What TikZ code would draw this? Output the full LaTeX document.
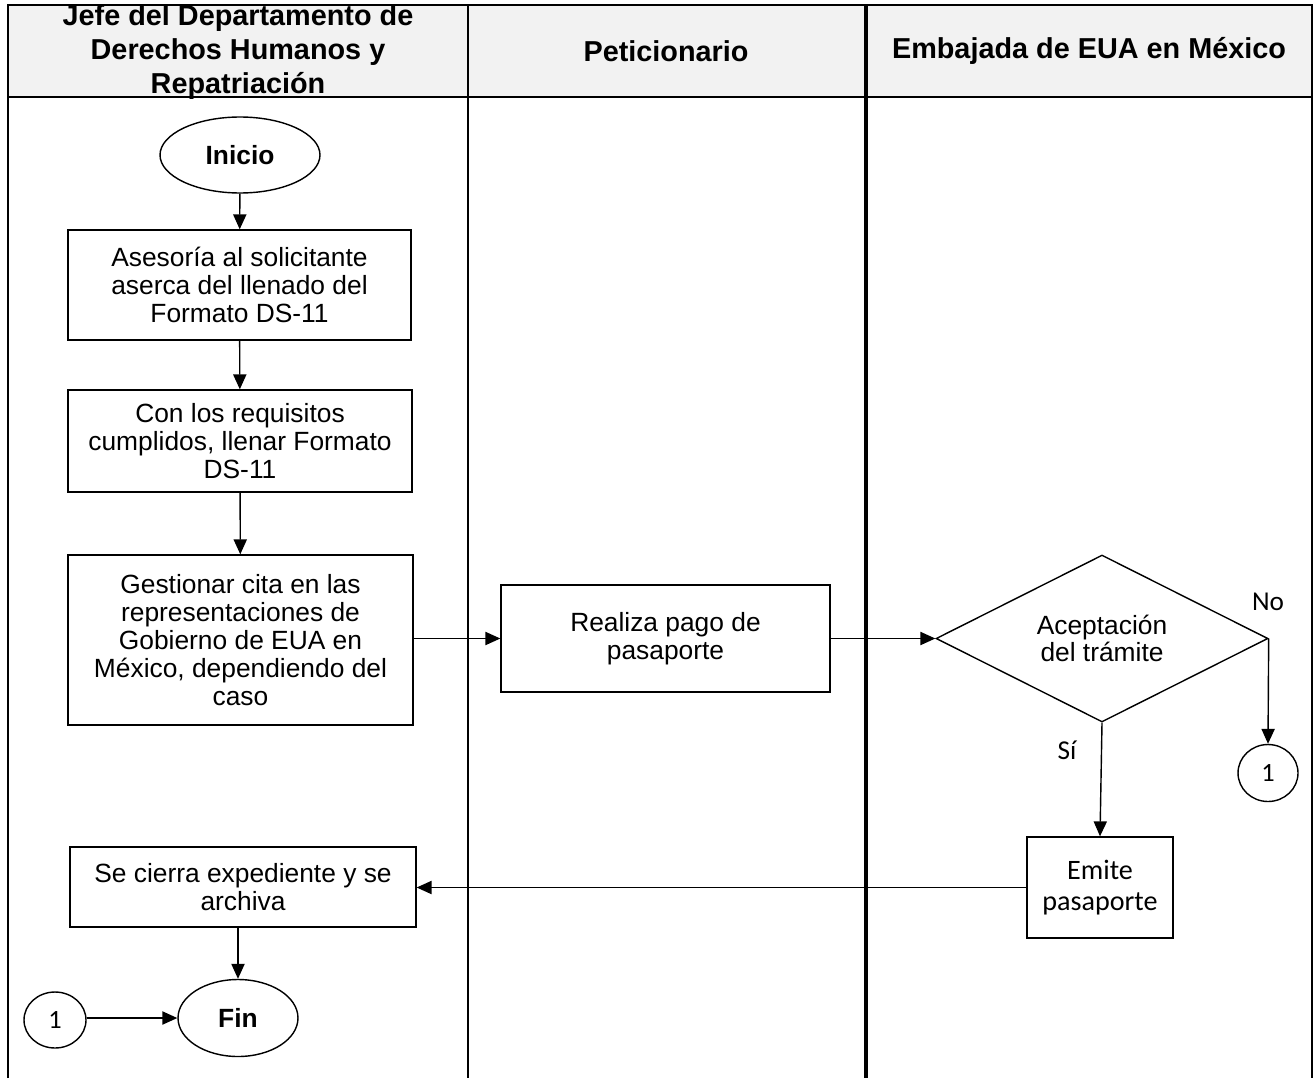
\documentclass[tikz,border=0pt]{standalone}
\usepackage{fontspec}
\setmainfont{Liberation Sans}
\newfontfamily\calf{Carlito}
\usetikzlibrary{shapes.geometric,arrows.meta}
\definecolor{hdrgray}{HTML}{F2F2F2}
\tikzset{
  stepbox/.style={draw, line width=0.8pt, align=center, inner sep=2pt,
    font=\fontsize{15}{16}\selectfont},
  term/.style={draw, ellipse, line width=0.8pt, inner sep=0pt,
    font=\fontsize{15}{17}\selectfont\bfseries},
  conn/.style={draw, ellipse, line width=0.8pt, inner sep=0pt,
    font=\calf\fontsize{15}{17}\selectfont},
  decis/.style={draw, diamond, aspect=2, line width=0.8pt, inner sep=0pt, align=center,
    font=\fontsize{15}{15.5}\selectfont},
  flow/.style={line width=0.8pt, -{Triangle[length=8.5pt,width=7.5pt]}},
  hdr/.style={align=center, font=\fontsize{16.4}{19.5}\selectfont\bfseries},
  lbl/.style={font=\calf\fontsize{15.5}{17}\selectfont},
  frame/.style={line width=1.2pt}
}
\begin{document}
\begin{tikzpicture}[x=0.02cm, y=-0.02cm]
\useasboundingbox (0,0) rectangle (1314,1078);
% header
\fill[hdrgray] (8,5) rectangle (1312,97);
\node[hdr] (h1) at (238,52) {Jefe del Departamento de\\Derechos Humanos y\\Repatriación};
\node[hdr] (h2) at (666,51) {Peticionario};
\node[hdr] (h3) at (1089,51) {Embajada de EUA en México};
% frame
\draw[frame] (8,1078) -- (8,5) -- (1312,5) -- (1312,1078);
\draw[frame] (8,97) -- (1312,97);
\draw[frame] (468,5) -- (468,1078);
\draw[line width=1.8pt] (866,5) -- (866,1078);
% nodes
\node[term, minimum width=3.2cm, minimum height=1.52cm] (ini) at (240,155) {Inicio};
\node[stepbox, minimum width=6.86cm, minimum height=2.2cm] (b1) at (239.5,285)
  {Asesoría al solicitante\\aserca del llenado del\\Formato DS-11};
\node[stepbox, minimum width=6.88cm, minimum height=2.04cm] (b2) at (240,441)
  {Con los requisitos\\cumplidos, llenar Formato\\DS-11};
\node[stepbox, minimum width=6.9cm, minimum height=3.4cm] (b3) at (240.5,640)
  {Gestionar cita en las\\representaciones de\\Gobierno de EUA en\\México, dependiendo del\\caso};
\node[stepbox, minimum width=6.58cm, minimum height=2.14cm] (b4) at (665.5,638.5)
  {Realiza pago de\\pasaporte};
\node[decis, minimum width=6.64cm, minimum height=3.34cm] (d) at (1102,638.5)
  {Aceptación\\del trámite};
\node[conn, minimum width=1.2cm, minimum height=1.14cm] (c1) at (1268,773) {1};
\node[stepbox, font=\calf\fontsize{16}{17.5}\selectfont, minimum width=2.92cm, minimum height=2.02cm] (em) at (1100,887.5)
  {Emite\\pasaporte};
\node[stepbox, minimum width=6.92cm, minimum height=1.6cm] (b5) at (243,887)
  {Se cierra expediente y se\\archiva};
\node[term, minimum width=2.4cm, minimum height=1.54cm] (fin) at (238,1018) {Fin};
\node[conn, minimum width=1.24cm, minimum height=1.12cm] (c2) at (55,1020) {1};
% labels
\node[lbl] (no) at (1268,602) {No};
\node[lbl] (si) at (1067,750) {Sí};
% connectors
\draw[flow] (ini) -- (b1);
\draw[flow] (b1) -- (b2);
\draw[flow] (b2) -- (b3);
\draw[flow] (b3.east |- b4.west) -- (b4.west);
\draw[flow] (b4.east) -- (d.west);
\draw[flow] (d.east) -- (c1.north);
\draw[flow] (d.south) -- (em.north);
\draw[flow] (em.west) -- (b5.east |- em.west);
\draw[flow] (b5.south -| fin.north) -- (fin.north);
\draw[flow] (c2.east |- fin.west) -- (fin.west);
\end{tikzpicture}
\end{document}
